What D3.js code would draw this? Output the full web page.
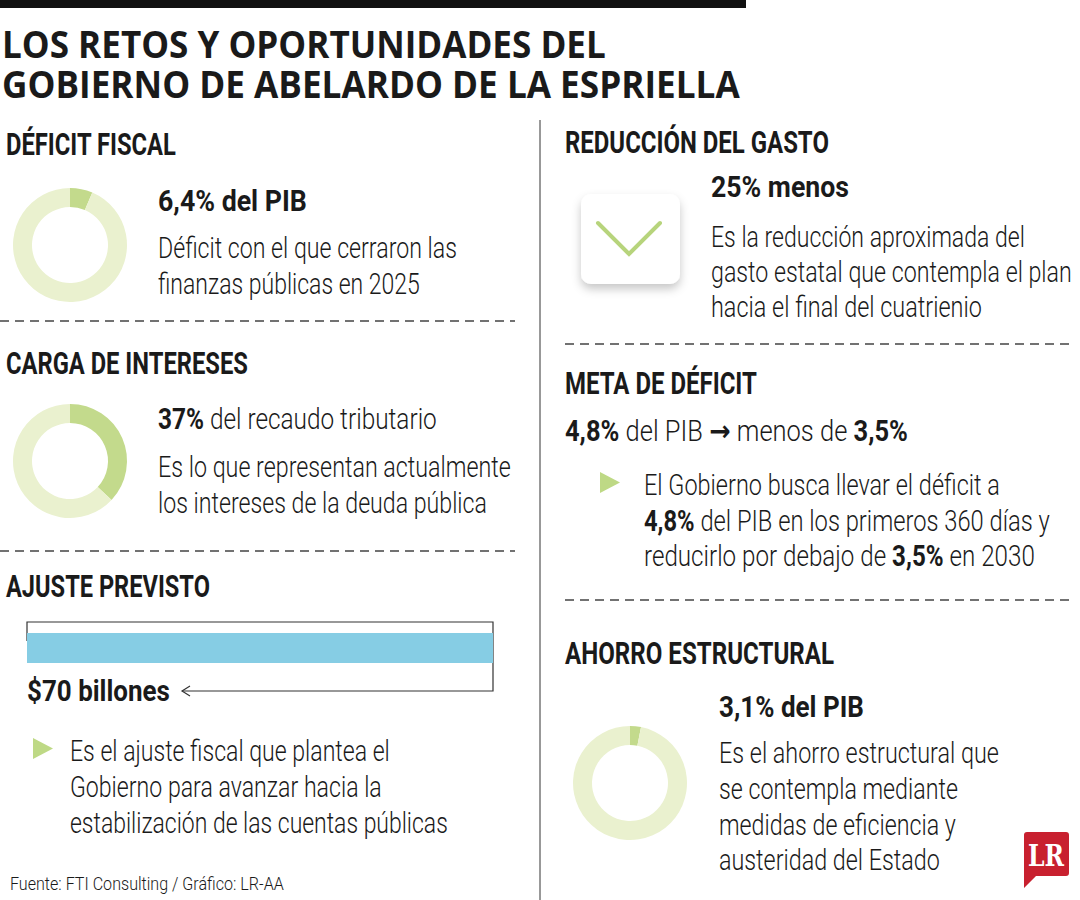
<!DOCTYPE html>
<html>
<head>
<meta charset="utf-8">
<script src="https://cdn.jsdelivr.net/npm/d3@7"></script>
<style>
  body{margin:0;background:#fff;}
  svg{display:block;}
</style>
</head>
<body>
<div id="plot"></div>
<script>
// data
var titleLines = ['LOS RETOS Y OPORTUNIDADES DEL', 'GOBIERNO DE ABELARDO DE LA ESPRIELLA'];
var donutNames = ['DÉFICIT FISCAL', 'CARGA DE INTERESES', 'AHORRO ESTRUCTURAL'];
var donutValues = [6.4, 37, 3.1];   // % (of PIB / of recaudo)
var ajusteName = 'AJUSTE PREVISTO';
var ajusteValue = 70;               // billones
var gastoName = 'REDUCCIÓN DEL GASTO';
var gastoValue = 25;                // % menos
var metaName = 'META DE DÉFICIT';
var metaValues = [4.8, 3.5];        // % del PIB
var fuente = 'Fuente: FTI Consulting / Gráfico: LR-AA';

var fmt = function(v){ return String(v).replace('.', ','); };

var W = 1080, H = 900;
var svg = d3.select('#plot').append('svg').attr('width', W).attr('height', H);

var defs = svg.append('defs');
var sh = defs.append('filter').attr('id','shadow').attr('x','-30%').attr('y','-30%').attr('width','160%').attr('height','170%');
sh.append('feDropShadow').attr('dx',0).attr('dy',5).attr('stdDeviation',5).attr('flood-color','#000').attr('flood-opacity',0.22);

var green = '#c3da8c', greenLight = '#eaf1cf', blue = '#86cde4', ink = '#1a1a1a';
var FONT = 'Roboto, "Liberation Sans", sans-serif';
var BODY = 29;

// text helper: parts = [[string, weight, family?], ...]; squeezed to the width seen in the picture
function txt(x, y, parts, size, w, fam){
  var t = svg.append('text')
    .attr('transform','translate('+x+','+y+')')
    .style('font-family', fam || FONT)
    .style('font-size', size+'px')
    .style('fill', ink);
  parts.forEach(function(p){
    var s = t.append('tspan').text(p[0]).style('font-weight', p[1] || 300);
    if (p[2]) s.style('font-family', p[2]);
  });
  var len = t.node().getComputedTextLength();
  if (w && len > 0) t.attr('transform','translate('+x+','+y+') scale('+(w/len)+',1)');
  return t;
}

// top rule and title
svg.append('rect').attr('x',0).attr('y',0).attr('width',746).attr('height',8).attr('fill','#111');
txt(2, 58, [[titleLines[0], 700]], 37, 604, '"Open Sans", Roboto, sans-serif');
txt(2, 98, [[titleLines[1], 700]], 37, 738, '"Open Sans", Roboto, sans-serif');

// vertical divider
svg.append('line').attr('x1',540).attr('x2',540).attr('y1',120).attr('y2',900).attr('stroke','#333').attr('stroke-width',1);

// dashed separators
var dashes = [[0,515,321],[0,515,551],[565,1075,344],[565,1075,600]];
dashes.forEach(function(d){
  svg.append('line').attr('x1',d[0]).attr('x2',d[1]).attr('y1',d[2]).attr('y2',d[2])
    .attr('stroke','#444').attr('stroke-width',1.4).attr('stroke-dasharray','9,6');
});

// donuts
var pie = d3.pie().sort(null).value(function(d){ return d; });
var arc = d3.arc().innerRadius(38).outerRadius(57);
var donutPos = [[70,245],[70,461],[630,783]];
donutValues.forEach(function(v, i){
  var g = svg.append('g').attr('transform','translate('+donutPos[i][0]+','+donutPos[i][1]+')');
  g.selectAll('path').data(pie([v, 100 - v])).join('path')
    .attr('d', arc)
    .attr('fill', function(d, j){ return j === 0 ? green : greenLight; });
});

// section headings
txt(6, 155, [[donutNames[0], 700]], 32, 170);
txt(6, 374, [[donutNames[1], 700]], 32, 242);
txt(6, 597, [[ajusteName, 700]], 32, 204);
txt(565, 153, [[gastoName, 700]], 32, 264);
txt(565, 394, [[metaName, 700]], 32, 192);
txt(565, 664, [[donutNames[2], 700]], 32, 269);

// DÉFICIT FISCAL
txt(158, 211, [[fmt(donutValues[0])+'% del PIB', 700]], 29, 149);
txt(158, 258, [['Déficit con el que cerraron las']], BODY, 299);
txt(158, 294, [['finanzas públicas en 2025']], BODY, 262);

// CARGA DE INTERESES
txt(158, 429, [[donutValues[1]+'%', 700], [' del recaudo tributario', 300]], BODY, 279);
txt(158, 477, [['Es lo que representan actualmente']], BODY, 353);
txt(158, 513, [['los intereses de la deuda pública']], BODY, 329);

// AJUSTE PREVISTO bar
var x = d3.scaleLinear().domain([0, ajusteValue]).range([27, 493]);
svg.append('path')
  .attr('d','M'+x(0)+',641 V622 H'+x(ajusteValue)+' V691 H182')
  .attr('fill','none').attr('stroke','#333').attr('stroke-width',1.2);
svg.append('path').attr('d','M190,686 L182,691 L190,696').attr('fill','none').attr('stroke','#333').attr('stroke-width',1.2);
svg.append('rect').attr('x',x(0)).attr('y',633).attr('width',x(ajusteValue)-x(0)).attr('height',30).attr('fill',blue);
txt(27, 701, [['$'+ajusteValue+' billones', 700]], 29, 143);

function bullet(x0, y0){
  svg.append('path').attr('d','M'+x0+','+y0+' l20,10.5 l-20,10.5 Z').attr('fill', '#bed985');
}
bullet(33, 738);
txt(70, 761, [['Es el ajuste fiscal que plantea el']], BODY, 320);
txt(70, 797, [['Gobierno para avanzar hacia la']], BODY, 312);
txt(70, 833, [['estabilización de las cuentas públicas']], BODY, 378);

txt(10, 890, [[fuente, 300]], 19, 274);

// REDUCCIÓN DEL GASTO
svg.append('rect').attr('x',581).attr('y',194).attr('width',99).attr('height',90).attr('rx',10)
  .attr('fill','#fff').attr('filter','url(#shadow)');
svg.append('path').attr('d','M598,223 L629,254 L660,223').attr('fill','none')
  .attr('stroke','#b7d47c').attr('stroke-width',4).attr('stroke-linecap','round');
txt(711, 197, [[gastoValue+'% menos', 700]], 29, 138);
txt(711, 247, [['Es la reducción aproximada del']], BODY, 314);
txt(711, 282, [['gasto estatal que contempla el plan']], BODY, 361);
txt(711, 317, [['hacia el final del cuatrienio']], BODY, 271);

// META DE DÉFICIT
txt(565, 441, [[fmt(metaValues[0])+'%', 700], [' del PIB ', 300], ['\u2192', 700, '"DejaVu Sans", sans-serif'], [' menos de ', 300], [fmt(metaValues[1])+'%', 700]], BODY, 343);
bullet(600, 472);
txt(644, 495, [['El Gobierno busca llevar el déficit a']], BODY, 356);
txt(644, 531, [[fmt(metaValues[0])+'%', 700], [' del PIB en los primeros 360 días y', 300]], BODY, 406);
txt(644, 566, [['reducirlo por debajo de ', 300], [fmt(metaValues[1])+'%', 700], [' en 2030', 300]], BODY, 391);

// AHORRO ESTRUCTURAL
txt(719, 717, [[fmt(donutValues[2])+'% del PIB', 700]], 29, 145);
txt(719, 763, [['Es el ahorro estructural que']], BODY, 280);
txt(719, 799, [['se contempla mediante']], BODY, 239);
txt(719, 835, [['medidas de eficiencia y']], BODY, 237);
txt(719, 870, [['austeridad del Estado']], BODY, 221);

// LR logo
svg.append('path').attr('d','M1025,832 H1066 Q1069,832 1069,835 V873 Q1069,876 1066,876 H1036 L1024,888 V835 Q1024,832 1027,832 Z')
  .attr('fill','#c8202f');
txt(1028, 866, [['LR', 700]], 29, 36, '"DejaVu Serif", "Liberation Serif", serif').style('fill','#fff');
</script>
</body>
</html>
